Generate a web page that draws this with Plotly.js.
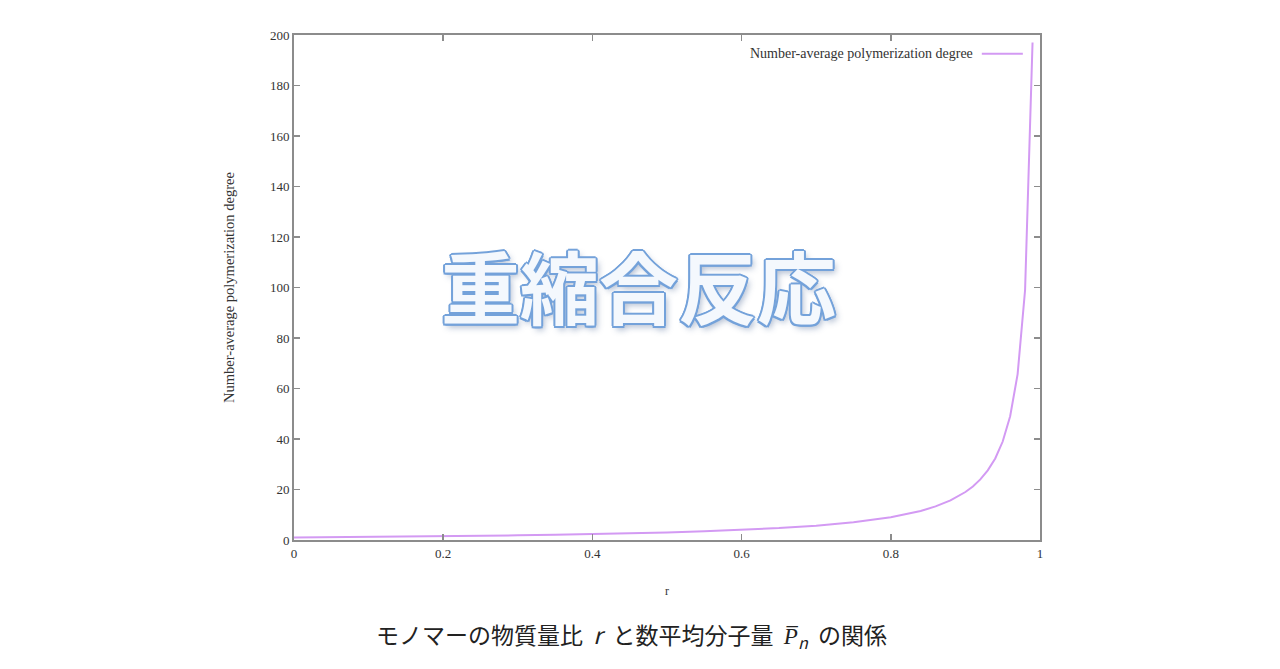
<!DOCTYPE html>
<html>
<head>
<meta charset="utf-8">
<script src="https://cdn.plot.ly/plotly-3.0.1.min.js"></script>
<style>html,body{margin:0;padding:0;background:#fff;}#chart{width:1280px;height:669px;}</style>
</head>
<body>
<div id="chart"></div>
<script>
// Monomer ratio r
var ratioR = [0, 0.05, 0.1, 0.15, 0.2, 0.25, 0.3, 0.35, 0.4, 0.45, 0.5, 0.55, 0.6, 0.65, 0.7, 0.75, 0.8,
  0.82, 0.84, 0.86, 0.88, 0.9, 0.91, 0.92, 0.93, 0.94, 0.95, 0.96, 0.97, 0.98, 0.99];
// Number-average polymerization degree
var degreePn = [1, 1.1, 1.22, 1.35, 1.5, 1.67, 1.86, 2.08, 2.33, 2.64, 3, 3.44, 4, 4.71, 5.67, 7, 9,
  10.1, 11.5, 13.3, 15.7, 19, 21.2, 24, 27.6, 32.3, 39, 49, 65.7, 99, 197];
var xTickVals = [0, 0.2, 0.4, 0.6, 0.8, 1];
var xTickText = ['0', '0.2', '0.4', '0.6', '0.8', '1'];
var yTickVals = [0, 20, 40, 60, 80, 100, 120, 140, 160, 180, 200];
var seriesName = 'Number-average polymerization degree';
var lineColor = '#d39af3';

var trace = {
  x: ratioR, y: degreePn, type: 'scatter', mode: 'lines', name: seriesName,
  line: {color: lineColor, width: 2}, showlegend: false, hoverinfo: 'skip'
};

var axisCommon = {
  showgrid: false, zeroline: false, showline: true, linecolor: '#8c8c8c', linewidth: 2,
  mirror: 'ticks', ticks: 'inside', ticklen: 6, tickwidth: 1.5, tickcolor: '#8c8c8c',
  tickfont: {family: 'Liberation Serif, serif', size: 13, color: '#333'}
};

var layout = {
  width: 1280, height: 669,
  margin: {l: 294, r: 240, t: 35, b: 129},
  paper_bgcolor: '#fff', plot_bgcolor: '#fff',
  font: {family: 'Liberation Serif, serif', color: '#333'},
  xaxis: Object.assign({}, axisCommon, {
    range: [0, 1], tickvals: xTickVals, ticktext: xTickText,
    title: {text: 'r', font: {family: 'Liberation Serif, serif', size: 12, color: '#333'}, standoff: 27}
  }),
  yaxis: Object.assign({}, axisCommon, {
    range: [0, 200], tickvals: yTickVals,
    title: {text: seriesName, font: {family: 'Liberation Serif, serif', size: 14.5, color: '#333'}, standoff: 32}
  }),
  shapes: [
    {type: 'line', xref: 'paper', yref: 'paper', x0: 0.922, x1: 0.977, y0: 0.963, y1: 0.963,
     line: {color: lineColor, width: 2}}
  ],
  annotations: [
    {xref: 'paper', yref: 'paper', x: 0.913, y: 0.963, xanchor: 'right', yanchor: 'middle',
     text: seriesName, showarrow: false,
     font: {family: 'Liberation Serif, serif', size: 14, color: '#333'}},
    {xref: 'paper', yref: 'paper', x: 0.462, y: 0.505, xanchor: 'center', yanchor: 'middle',
     text: '<b>重縮合反応</b>', showarrow: false,
     font: {family: 'Noto Sans CJK JP', size: 79, color: '#f4f8fd',
       shadow: '2px 0 0 #74a2da, -2px 0 0 #74a2da, 0 2px 0 #74a2da, 0 -2px 0 #74a2da, 1.5px 1.5px 0 #74a2da, -1.5px -1.5px 0 #74a2da, 1.5px -1.5px 0 #74a2da, -1.5px 1.5px 0 #74a2da, 3px 4px 6px rgba(60,90,140,0.4)'}},
    {xref: 'paper', yref: 'paper', x: 0.453, y: -0.19, xanchor: 'center', yanchor: 'middle',
     text: 'モノマーの物質量比  <i>r</i>  と数平均分子量  <i>P̅<sub>n</sub></i>  の関係', showarrow: false,
     font: {family: 'Noto Sans CJK JP', size: 23, color: '#222'}}
  ]
};

Plotly.newPlot('chart', [trace], layout, {displayModeBar: false, staticPlot: true});
</script>
</body>
</html>
